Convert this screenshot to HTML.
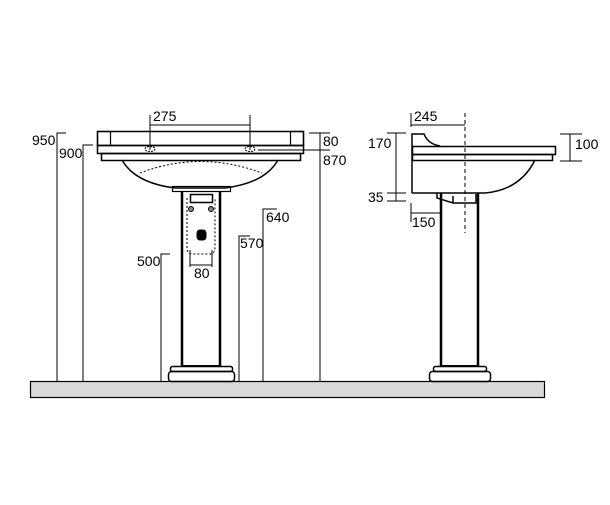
<!DOCTYPE html>
<html><head><style>
body{margin:0;background:#fff}
svg text{font-family:"Liberation Sans",Arial,sans-serif;font-size:14px;fill:#000}
</style></head><body>
<svg width="610" height="500" viewBox="0 0 610 500" xmlns="http://www.w3.org/2000/svg">
<g fill="none" stroke="#000" stroke-width="1">
<rect x="30.5" y="381.5" width="514" height="16" fill="#d9d9d9" stroke-width="1.2"/>
<rect x="97.5" y="131.5" width="206" height="14" stroke-width="1.5"/>
<rect x="97.5" y="131.5" width="13" height="14" stroke-width="1.2"/>
<rect x="290.5" y="131.5" width="13" height="14" stroke-width="1.2"/>
<rect x="97.5" y="145.5" width="206" height="8" stroke-width="1.5"/>
<rect x="101.5" y="153.5" width="199" height="7" stroke-width="1.5"/>
<path d="M122 160 Q135 183 175 188 L225 188 Q265 183 278 160" stroke-width="1.5"/>
<path d="M140 173 Q200 150 262 173" stroke-dasharray="2,2"/>
<rect x="172.5" y="186.5" width="58" height="5" stroke-width="1.2"/>
<ellipse cx="150" cy="149" rx="5" ry="2.5" stroke-dasharray="2,1"/>
<ellipse cx="250" cy="149" rx="5" ry="2.5" stroke-dasharray="2,1"/>
<line x1="182" y1="192" x2="182" y2="366" stroke-width="2.5"/>
<line x1="220" y1="192" x2="220" y2="366" stroke-width="2.5"/>
<line x1="182" y1="366" x2="220" y2="366" stroke-width="2"/>
<rect x="170.5" y="366.5" width="62" height="5" rx="2" stroke-width="1.5"/>
<rect x="168.5" y="371.5" width="66" height="10" rx="3" stroke-width="1.5"/>
<rect x="190.5" y="194.5" width="22" height="8" stroke-width="1.5"/>
<path d="M187 198 L187 248 Q187 254 193 254 L209 254 Q215 254 215 248 L215 198" stroke-dasharray="2,2"/>
<circle cx="191" cy="209" r="2.5" fill="#888"/>
<circle cx="211" cy="209" r="2.5" fill="#888"/>
<rect x="197" y="230" width="9" height="10" rx="3" fill="#000"/>
<path d="M412 193 L412 134 L424 134 Q428 144 440 146" stroke-width="1.5"/>
<rect x="412.5" y="146.5" width="143" height="8" stroke-width="1.5"/>
<rect x="412.5" y="154.5" width="140" height="6" stroke-width="1.5"/>
<path d="M535 160 Q520 190 485 193 L412 193" stroke-width="1.5"/>
<path d="M437 193 L437 198 L453 203 L476 203 L476 194" stroke-width="1.5"/>
<line x1="453" y1="196" x2="453" y2="203" stroke-width="1.5"/>
<line x1="441" y1="193" x2="441" y2="366" stroke-width="2.5"/>
<line x1="478" y1="193" x2="478" y2="366" stroke-width="2.5"/>
<line x1="441" y1="366" x2="478" y2="366" stroke-width="2"/>
<rect x="433.5" y="366.5" width="53" height="5" rx="2" stroke-width="1.5"/>
<rect x="429.5" y="371.5" width="61" height="10" rx="3" stroke-width="1.5"/>
<line x1="465" y1="113" x2="465" y2="233" stroke-dasharray="4,3"/>
<path d="M57 381 V133 H66"/>
<path d="M83 381 V145 H93"/>
<path d="M150 115 V150 M250 115 V150 M150 125 H250"/>
<path d="M320 381 V133 M309 133 H330 M258 150 H330"/>
<path d="M263 381 V209 H277"/>
<path d="M239 381 V236 H250"/>
<path d="M161 381 V254 H170"/>
<path d="M190 250 V267 M212 250 V267 M190 265 H212"/>
<path d="M411 113 V127 M411 125 H465"/>
<path d="M396 133 V201 M387 133 H406 M387 193 H406 M387 201 H406"/>
<path d="M411 203 V222 M411 213 H441"/>
<path d="M570 134 V161 M560 134 H582 M560 161 H582"/>
</g>
<text x="32" y="145">950</text>
<text x="59" y="158">900</text>
<text x="153" y="121">275</text>
<text x="323" y="146">80</text>
<text x="323" y="165">870</text>
<text x="266" y="222">640</text>
<text x="240" y="248">570</text>
<text x="137" y="266">500</text>
<text x="194" y="278">80</text>
<text x="414" y="121">245</text>
<text x="368" y="148">170</text>
<text x="368" y="202">35</text>
<text x="412" y="227">150</text>
<text x="575" y="149">100</text>
</svg>
</body></html>
